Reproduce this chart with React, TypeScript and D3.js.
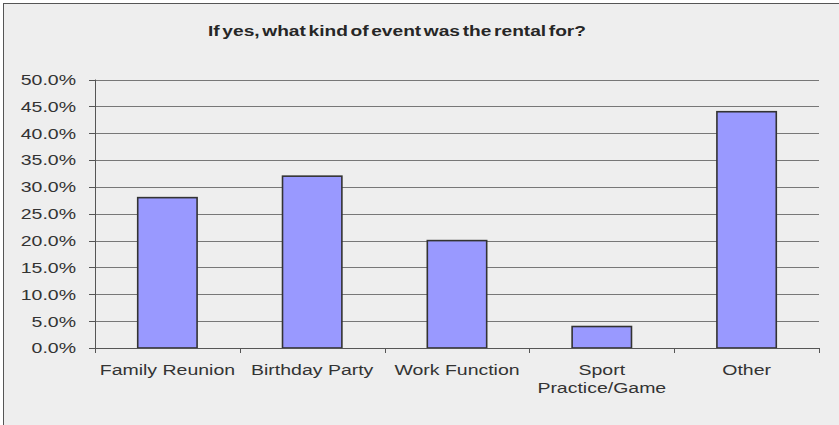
import React from "react";
import * as d3 from "d3";

const categories = ["Family Reunion", "Birthday Party", "Work Function", "Sport\nPractice/Game", "Other"];
const values = [28, 32, 20, 4, 44];
const yTicks = [0, 5, 10, 15, 20, 25, 30, 35, 40, 45, 50];
const title = "If yes, what kind of event was the rental for?";

const W = 839;
const H = 425;
const M = { left: 95, right: 819, top: 79.5, bottom: 348 };
const SX = 1.3;

export default function App() {
  const x = d3.scaleBand<string>().domain(categories).range([M.left, M.right]).paddingInner(0.59).paddingOuter(0.295);
  const band = d3.scaleBand<string>().domain(categories).range([M.left, M.right]);
  const y = d3.scaleLinear().domain([0, 50]).range([M.bottom, M.top]);
  const font = "'Liberation Sans', Arial, sans-serif";
  return (
    <div style={{ position: "fixed", left: 0, top: 0 }}>
      <svg width={W} height={H} style={{ display: "block" }}>
        <rect x={0} y={0} width={W} height={H} fill="#ffffff" />
        <rect x={3.5} y={3.5} width={W + 10} height={H + 10} fill="#eeeeee" stroke="#555" strokeWidth={1} />
        <text x={397} y={36} textAnchor="middle" fontFamily={font} fontWeight="bold" fontSize={14.5} wordSpacing={-2} fill="#262626" textLength={378} lengthAdjust="spacingAndGlyphs">
          {title}
        </text>
        {yTicks.map((t) => (
          <g key={t}>
            <line x1={M.left} x2={M.right} y1={Math.round(y(t)) + 0.5} y2={Math.round(y(t)) + 0.5} stroke="#777" strokeWidth={1} />
            <line x1={M.left - 6} x2={M.left} y1={Math.round(y(t)) + 0.5} y2={Math.round(y(t)) + 0.5} stroke="#555" strokeWidth={1} />
            <text transform={`translate(76,${y(t)}) scale(${SX},1)`} dy="0.36em" textAnchor="end" fontFamily={font} fontSize={15} fill="#333">
              {t.toFixed(1) + "%"}
            </text>
          </g>
        ))}
        <line x1={M.left + 0.5} x2={M.left + 0.5} y1={M.top} y2={M.bottom} stroke="#555" strokeWidth={1} />
        {categories.map((c, i) => (
          <rect
            key={c}
            x={x(c)}
            y={y(values[i])}
            width={x.bandwidth()}
            height={M.bottom - y(values[i])}
            fill="#9999ff"
            stroke="#333"
            strokeWidth={1.6}
          />
        ))}
        <line x1={M.left} x2={M.right} y1={M.bottom + 0.5} y2={M.bottom + 0.5} stroke="#555" strokeWidth={1} />
        {[...categories.map((c) => band(c) as number), M.right].map((bx, i) => (
          <line key={i} x1={Math.round(bx) + 0.5} x2={Math.round(bx) + 0.5} y1={M.bottom} y2={M.bottom + 5} stroke="#555" strokeWidth={1} />
        ))}
        {categories.map((c) => {
          const cx = (band(c) as number) + band.bandwidth() / 2;
          return c.split("\n").map((line, j) => (
            <text key={c + j} transform={`translate(${cx},${374.5 + j * 18}) scale(${SX},1)`} textAnchor="middle" fontFamily={font} fontSize={15} fill="#333">
              {line}
            </text>
          ));
        })}
      </svg>
    </div>
  );
}
